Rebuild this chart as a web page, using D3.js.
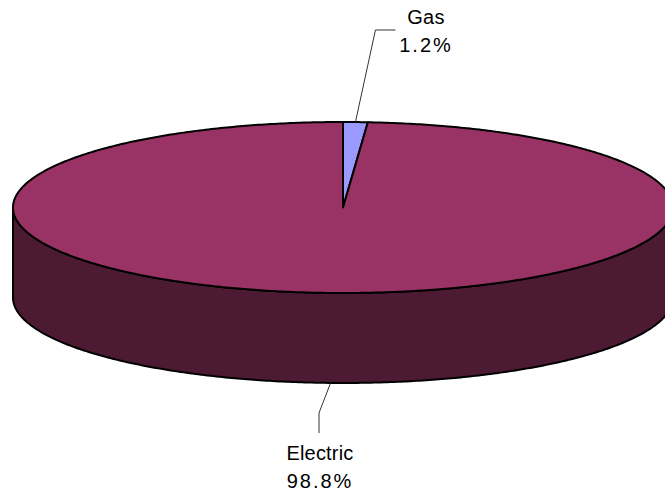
<!DOCTYPE html>
<html>
<head>
<meta charset="utf-8">
<script src="https://cdn.jsdelivr.net/npm/d3@7"></script>
<style>
  body { margin: 0; background: #fff; }
  svg { display: block; }
  text { font-family: "Liberation Sans", Arial, sans-serif; fill: #000; }
</style>
</head>
<body>
<script>
const categories = ["Gas", "Electric"];
const values = [1.2, 98.8];
const pctLabels = ["1.2%", "98.8%"];
const colors = ["#9999ff", "#993366"];
const sideColor = "#4c1b33";

const w = 665;
const h = 493;
const cx = 343;
const cy = 207.5;
const rx = 330;
const ry = 85.5;
const depth = 90;

// angle (radians, clockwise from 12 o'clock) -> point on the top ellipse
const px = (a) => cx + rx * Math.sin(a);
const py = (a) => cy - ry * Math.cos(a);

const pie = d3.pie().sort(null).value((d) => d);
const arcs = pie(values);

const svg = d3
  .select("body")
  .append("svg")
  .attr("width", w)
  .attr("height", h);

// sample points along the ellipse between two angles
function ellipsePts(a0, a1, dy) {
  const n = Math.max(2, Math.ceil(Math.abs(a1 - a0) / 0.01));
  return d3.range(n + 1).map((i) => {
    const a = a0 + ((a1 - a0) * i) / n;
    return [px(a), py(a) + dy];
  });
}

const line = d3.line();

// side wall (front half of the cylinder)
const sidePts = ellipsePts(Math.PI / 2, (3 * Math.PI) / 2, 0).concat(
  ellipsePts((3 * Math.PI) / 2, Math.PI / 2, depth)
);
svg
  .append("path")
  .attr("d", line(sidePts) + "Z")
  .attr("fill", sideColor)
  .attr("stroke", "#000")
  .attr("stroke-width", 2)
  .attr("stroke-linejoin", "round");

// top faces
svg
  .selectAll("path.slice")
  .data(arcs)
  .enter()
  .append("path")
  .attr("class", "slice")
  .attr("d", (d) => {
    const pts = [[cx, cy]].concat(ellipsePts(d.startAngle, d.endAngle, 0));
    return line(pts) + "Z";
  })
  .attr("fill", (d, i) => colors[i])
  .attr("stroke", "#000")
  .attr("stroke-width", 2)
  .attr("stroke-linejoin", "round");

// labels and leader lines
const labelPos = [
  { x: 426, y: 24, elbow: (p) => [[p[0] + 20, 30], [p[0] + 40, 30]] },
  { x: 320, y: 460, elbow: (p) => [[319, 413], [319, 433]] },
];

arcs.forEach((d, i) => {
  const mid = (d.startAngle + d.endAngle) / 2;
  const onFront = Math.cos(mid) < 0;
  const anchor = [px(mid), py(mid) + (onFront ? depth : 0)];
  const pts = [anchor].concat(labelPos[i].elbow(anchor));
  svg
    .append("path")
    .attr("d", line(pts))
    .attr("fill", "none")
    .attr("stroke", "#333")
    .attr("stroke-width", 1);

  const t = svg
    .append("text")
    .attr("x", labelPos[i].x)
    .attr("y", labelPos[i].y)
    .attr("text-anchor", "middle")
    .attr("font-size", 20);
  t.append("tspan")
    .attr("x", labelPos[i].x)
    .attr("letter-spacing", 0.2)
    .text(categories[i]);
  t.append("tspan")
    .attr("x", labelPos[i].x)
    .attr("dy", 28)
    .attr("letter-spacing", 2)
    .text(pctLabels[i]);
});
</script>
</body>
</html>
